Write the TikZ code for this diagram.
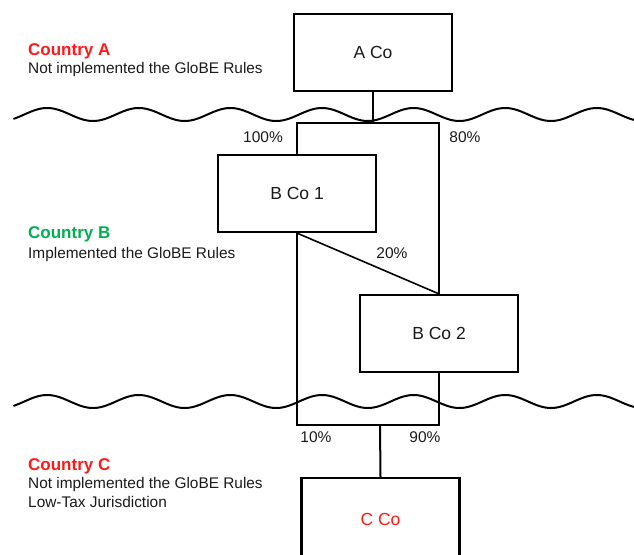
\documentclass[tikz,border=0pt]{standalone}
\usepackage{fontspec}
\setmainfont{Liberation Sans}
\definecolor{redA}{HTML}{FF1A1A}
\definecolor{greenB}{HTML}{00B050}
\definecolor{ink}{HTML}{1A1A1A}
\begin{document}
\begin{tikzpicture}[x=1pt,y=-1pt,
  entity/.style={draw, line width=2.2pt, fill=white, minimum width=158pt,
    minimum height=77pt, inner sep=0pt, text=ink,
    font=\fontsize{17.5}{20}\selectfont},
  link/.style={line width=1.6pt},
  stem/.style={line width=2pt},
  border/.style={line width=2pt, line cap=round},
  pct/.style={text=ink, font=\fontsize{15.5}{18}\selectfont},
  ctry/.style={anchor=base west, inner sep=0pt,
    font=\fontsize{17}{19}\bfseries\selectfont},
  note/.style={anchor=base west, inner sep=0pt, text=ink,
    font=\fontsize{15.4}{18}\selectfont}]

\useasboundingbox (0,0) rectangle (634,554);
\clip (0,0) rectangle (634,554);

% jurisdiction borders (wavelength 91.6: 360/91.6 = 3.9301 degrees per unit)
\draw[border] plot[domain=14:640, samples=260, smooth]
  (\x, {114.5 + 6.5*cos(3.9301*(\x-93))});
\draw[border] plot[domain=14:640, samples=260, smooth]
  (\x, {401.5 + 6.5*cos(3.9301*(\x-93))});

% entities
\node[entity] (A)  at (373,52.5)  {A Co};
\node[entity] (B1) at (297,193.5) {B Co 1};
\node[entity] (B2) at (439,333.5) {B Co 2};
\node[entity, text=redA, minimum height=82pt, text depth=0pt] (C) at (380.5,519) {C Co};

% ownership junctions
\coordinate (top) at (373,123);
\coordinate (bot) at (380,425);

% ownership links
\draw[stem] (A.south) -- (top);
\draw[link] (top) -| (B1.north);
\draw[link] (top) -| (B2.north);
\draw[link] (B1.south) -- (B2.north);
\draw[link] (B1.south) |- (bot);
\draw[link] (B2.south) |- (bot);
\draw[stem] (bot) -- (C.north);

% shareholdings
\node[pct] (p100) at (263,137) {100\%};
\node[pct] (p80)  at (465,137) {80\%};
\node[pct] (p20)  at (392,253) {20\%};
\node[pct] (p10)  at (316,437) {10\%};
\node[pct] (p90)  at (425,437) {90\%};

% jurisdiction labels
\node[ctry, text=redA] (cA) at (28,55) {Country A};
\node[note] (nA) at (28,73) {Not implemented the GloBE Rules};

\node[ctry, text=greenB] (cB) at (28,238) {Country B};
\node[note] (nB) at (28,258) {Implemented the GloBE Rules};

\node[ctry, text=redA] (cC) at (28,470) {Country C};
\node[note] (nC1) at (28,488) {Not implemented the GloBE Rules};
\node[note] (nC2) at (28,507) {Low-Tax Jurisdiction};
\end{tikzpicture}
\end{document}
